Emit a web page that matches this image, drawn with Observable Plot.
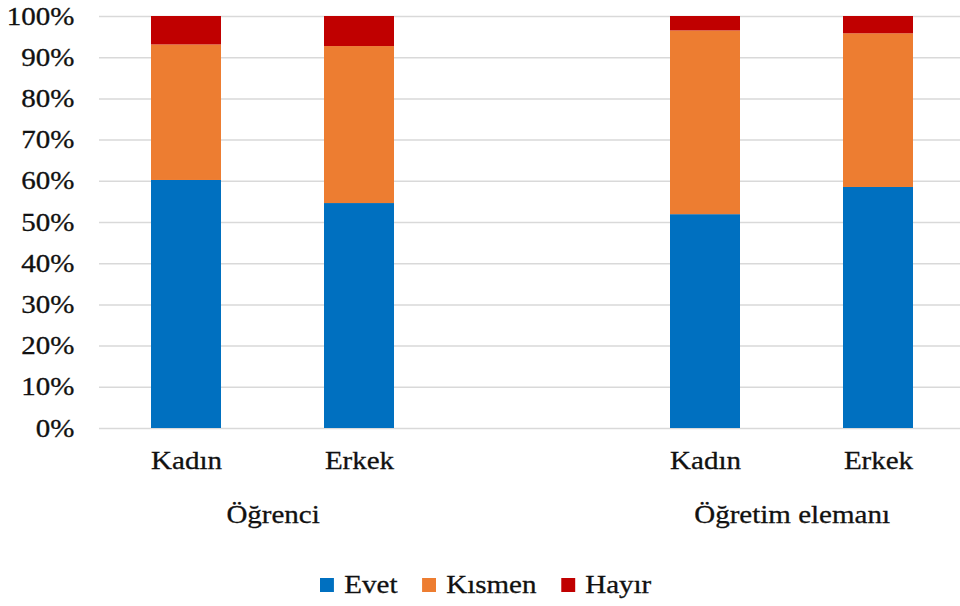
<!DOCTYPE html>
<html>
<head>
<meta charset="utf-8">
<script src="https://cdn.jsdelivr.net/npm/d3@7"></script>
<script src="https://cdn.jsdelivr.net/npm/@observablehq/plot@0.6"></script>
<style>
  html, body { margin: 0; padding: 0; background: #fff; overflow: hidden; }
  #chart { width: 960px; height: 606px; position: relative; }
  #chart svg text { stroke: #111; stroke-width: 0.3px; }
  .lg-swatches { font-family: 'Liberation Serif', 'Times New Roman', serif !important; font-size: 25px !important; color: #111 !important;
    margin: 23px 0 0 320px !important; transform: scaleX(1.16); transform-origin: left center;
    -webkit-text-stroke: 0.3px #111; }
  .lg-swatches-wrap .lg-swatch { margin-right: 21px !important; }
  .lg-swatch > svg { margin-right: 9px !important; -webkit-text-stroke: 0; }
</style>
</head>
<body>
<div id="chart"></div>
<script>
// ---- data ----
const categories = ["Kadın", "Erkek", "Kadın", "Erkek"];
const groups = ["Öğrenci", "Öğrenci", "Öğretim elemanı", "Öğretim elemanı"];
const groupNames = ["Öğrenci", "Öğretim elemanı"];
const responses = ["Evet", "Kısmen", "Hayır"];
const evet = [60.2, 54.6, 51.9, 58.5];
const kismen = [32.9, 38.1, 44.6, 37.3];
const hayir = [6.9, 7.3, 3.5, 4.2];
const yTicks = [0, 10, 20, 30, 40, 50, 60, 70, 80, 90, 100];
const colors = ["#0070C0", "#ED7D31", "#C00000"];

// ---- build table ----
const keys = categories.map((c, i) => groups[i] + "|" + c);
const xDomain = [keys[0], keys[1], " ", keys[2], keys[3]];
const series = [evet, kismen, hayir];
const rows = [];
keys.forEach((k, i) => {
  responses.forEach((r, j) => rows.push({key: k, response: r, value: series[j][i]}));
});
const groupRows = groupNames.map(g => ({group: g, first: keys[groups.indexOf(g)]}));

const W = 960, H = 545;
const mL = 99, mT = 16, mB = H - 428;
const xRange = [99, 965];
const step = (xRange[1] - xRange[0]) / xDomain.length;
const FONT = "'Liberation Serif', 'Times New Roman', serif";

const plot = Plot.plot({
  width: W,
  height: H,
  marginLeft: mL,
  marginRight: 0,
  marginTop: mT,
  marginBottom: mB,
  style: {fontFamily: FONT, fontSize: "25px", color: "#111", background: "white"},
  x: {domain: xDomain, range: xRange, paddingInner: 0.596, paddingOuter: 0.298,
      tickSize: 0, tickPadding: 23, label: null,
      tickFormat: d => (d.split("|")[1] ?? "")},
  y: {domain: [0, 100], ticks: yTicks, tickSize: 0, tickPadding: 25, label: null,
      tickFormat: d => d + "%"},
  color: {domain: responses, range: colors},
  marks: [
    Plot.ruleY(yTicks, {stroke: "#d9d9d9", strokeWidth: 1.5}),
    Plot.barY(rows, {x: "key", y: "value", fill: "response", inset: 0}),
    Plot.text(groupRows, {x: "first", y: 0, text: "group", dx: step / 2, dy: 86,
      fontSize: 25, fill: "#111"})
  ]
});
document.getElementById("chart").appendChild(plot);

const legend = Plot.legend({
  color: {domain: responses, range: colors, type: "ordinal"},
  swatchWidth: 12, swatchHeight: 14, className: "lg"
});
document.getElementById("chart").appendChild(legend);

// horizontal stretch of serif text to match reference glyph widths
const STRETCH = 1.16;
plot.querySelectorAll("text").forEach(t => {
  const len = t.getComputedTextLength();
  if (len > 0) {
    t.setAttribute("textLength", (len * STRETCH).toFixed(2));
    t.setAttribute("lengthAdjust", "spacingAndGlyphs");
  }
});
</script>
</body>
</html>
